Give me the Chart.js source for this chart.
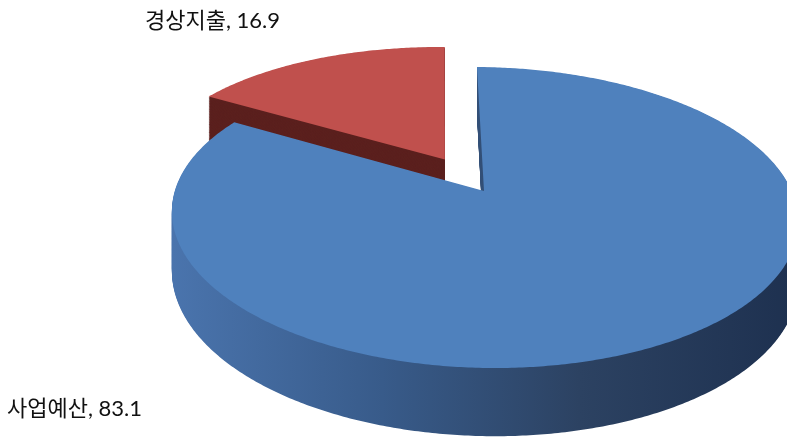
<!DOCTYPE html>
<html><head><meta charset="utf-8">
<script src="https://cdn.jsdelivr.net/npm/chart.js@4/dist/chart.umd.min.js"></script>
<style>html,body{margin:0;padding:0;background:#fff;overflow:hidden}</style>
</head><body>
<canvas id="c" width="787" height="438"></canvas>
<script>
const categories = ['사업예산', '경상지출'];
const values = [83.1, 16.9];
const topColors = ['#4f81bd', '#c0504d'];
const explodeFrac = [0, 0.25];

// 3D projection parameters (style only)
const G = {cx: 484, cy: 191, rx: 308.6, ry: 150.5, p: 0.176, ex: 40, t: 2, h: 58};
function proj(u, v, hh) {
  const w = 1 + G.p * v;
  return [G.cx + (G.rx * u + G.ex) * w - G.ex, G.cy + (G.ry * v + G.t * u + G.h * hh) * w];
}
function slicePath(ctx, a0, a1, ou, ov, hh) {
  ctx.beginPath();
  let q = proj(ou, ov, hh);
  ctx.moveTo(q[0], q[1]);
  const n = Math.max(2, Math.ceil((a1 - a0) / 0.01));
  for (let i = 0; i <= n; i++) {
    const a = a0 + (a1 - a0) * i / n;
    q = proj(Math.cos(a) + ou, Math.sin(a) + ov, hh);
    ctx.lineTo(q[0], q[1]);
  }
  ctx.closePath();
}
function sideFill(ctx, i) {
  if (i === 0) {
    const g = ctx.createLinearGradient(172, 0, 790, 0);
    g.addColorStop(0, '#4a74ad');
    g.addColorStop(0.34, '#385b8a');
    g.addColorStop(0.66, '#2c4262');
    g.addColorStop(1, '#1e3150');
    return g;
  }
  return '#5b201e';
}

const pie3d = {
  id: 'pie3d',
  beforeDatasetsDraw(chart) {
    const ctx = chart.ctx;
    const meta = chart.getDatasetMeta(0);
    const order = meta.data.map((_, i) => i).reverse();
    ctx.save();
    for (const i of order) {
      const arc = meta.data[i];
      const p = arc.getProps(['startAngle', 'endAngle'], true);
      const mid = (p.startAngle + p.endAngle) / 2;
      const d = explodeFrac[i] || 0;
      const ou = Math.cos(mid) * d, ov = Math.sin(mid) * d;
      ctx.fillStyle = sideFill(ctx, i);
      const steps = 70;
      for (let s = steps; s >= 1; s--) {
        slicePath(ctx, p.startAngle, p.endAngle, ou, ov, s / steps);
        ctx.fill();
      }
      ctx.fillStyle = arc.options.backgroundColor;
      slicePath(ctx, p.startAngle, p.endAngle, ou, ov, 0);
      ctx.fill();
    }
    ctx.restore();
    return false;
  },
  afterDraw(chart) {
    const ctx = chart.ctx;
    ctx.save();
    ctx.fillStyle = '#111';
    ctx.textBaseline = 'middle';
    ctx.textAlign = 'left';
    ctx.font = "22px Lato, 'Noto Sans CJK KR'";
    const pos = [[7, 409], [145, 21]];
    categories.forEach((c, i) => {
      ctx.fillText(c + ', ' + values[i], pos[i][0], pos[i][1]);
    });
    ctx.restore();
  }
};

new Chart(document.getElementById('c'), {
  type: 'pie',
  data: {
    labels: categories,
    datasets: [{data: values, backgroundColor: topColors, borderWidth: 0}]
  },
  options: {
    responsive: false,
    animation: false,
    plugins: {legend: {display: false}, tooltip: {enabled: false}}
  },
  plugins: [pie3d]
});
</script>
</body></html>
